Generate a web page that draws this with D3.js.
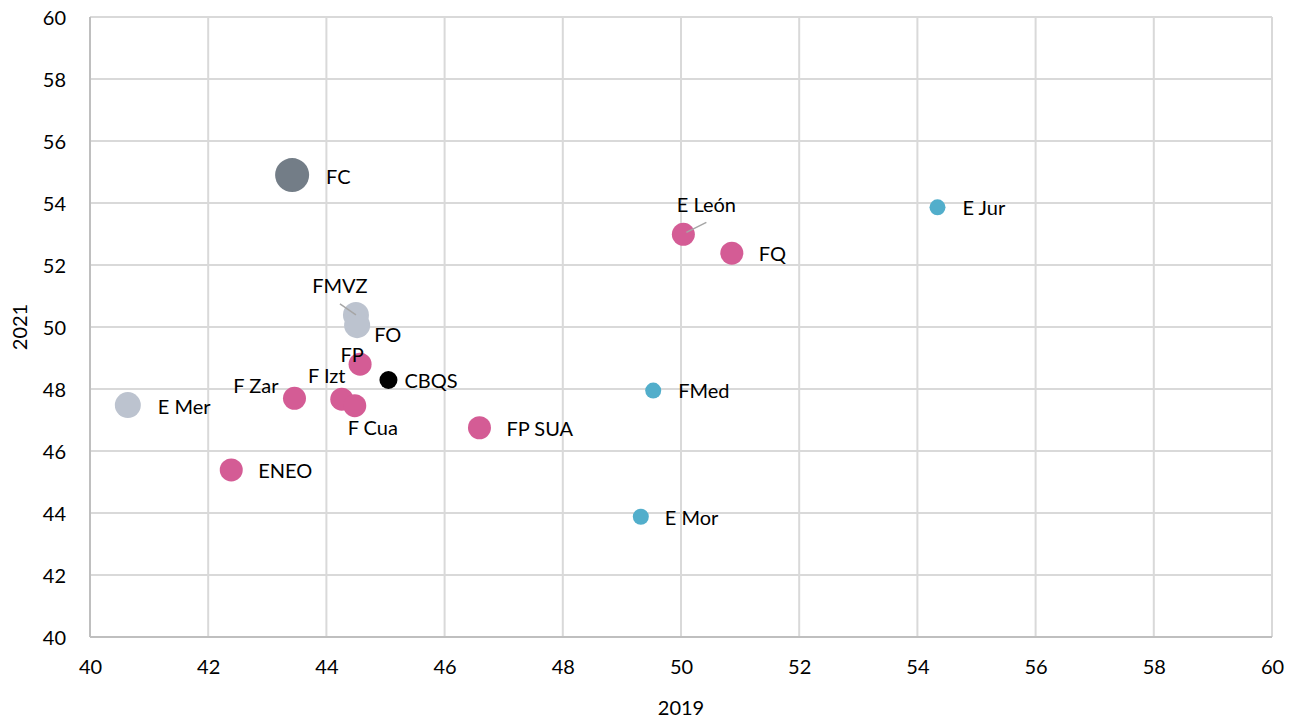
<!DOCTYPE html>
<html><head><meta charset="utf-8">
<script src="https://cdn.jsdelivr.net/npm/d3@7"></script>
<style>body{margin:0;background:#fff;} text{font-family:Lato,sans-serif;fill:#000;}</style>
</head><body><svg id="c" width="1294" height="721"></svg>
<script>
const names  = ["FC","E Mer","FMVZ","FO","FP","CBQS","F Zar","F Izt","F Cua","FP SUA","ENEO","E León","FQ","E Jur","FMed","E Mor"];
const x2019  = [43.42,40.64,44.50,44.52,44.57,45.05,43.46,44.26,44.48,46.59,42.39,50.04,50.86,54.34,49.53,49.32];
const y2021  = [54.90,47.48,50.39,50.06,48.80,48.29,47.70,47.67,47.46,46.75,45.39,52.99,52.38,53.86,47.95,43.88];
const groups = ["dark","light","light","light","pink","black","pink","pink","pink","pink","pink","pink","pink","blue","blue","blue"];
const sizes  = [17,13,13,13,11.5,9,11.5,11.5,11.5,11.5,11.5,11.5,11.5,8,8,8];
const xTicks = [40,42,44,46,48,50,52,54,56,58,60];
const yTicks = [40,42,44,46,48,50,52,54,56,58,60];
// label offsets (px) relative to point, anchor
const labelPos = [[34,2,"start"],[30,2,"start"],[-16,-29,"middle"],[17,10,"start"],[-8,-9,"middle"],[16,1,"start"],[-16,-12,"end"],[-15,-23,"middle"],[18,22,"middle"],[27,1,"start"],[27,1,"start"],[23,-29,"middle"],[27,1,"start"],[25,1,"start"],[25,0,"start"],[24,1,"start"]];
const leaders = {"FMVZ":[[-16,-11],[0,0]], "E León":[[23,-12],[3,-2]]};

const colors = {dark:"#737d87",light:"#bcc3cf",pink:"#d45c95",black:"#000000",blue:"#52aecb"};
const svg = d3.select("#c");
const m = {l:90,r:1272,t:17,b:637};
const x = d3.scaleLinear().domain([40,60]).range([m.l,m.r]);
const y = d3.scaleLinear().domain([40,60]).range([m.b,m.t]);
const FS = "20px";

const g = svg.append("g");
g.selectAll(".gx").data(xTicks).join("line").attr("x1",d=>x(d)).attr("x2",d=>x(d)).attr("y1",m.t).attr("y2",m.b).attr("stroke","#d9d9d9").attr("stroke-width",2);
g.selectAll(".gy").data(yTicks).join("line").attr("y1",d=>y(d)).attr("y2",d=>y(d)).attr("x1",m.l).attr("x2",m.r).attr("stroke","#d9d9d9").attr("stroke-width",2);
g.append("line").attr("x1",m.l).attr("x2",m.l).attr("y1",m.t).attr("y2",m.b).attr("stroke","#bfbfbf").attr("stroke-width",2);
g.append("line").attr("x1",m.l).attr("x2",m.r).attr("y1",m.b).attr("y2",m.b).attr("stroke","#bfbfbf").attr("stroke-width",2);

const xa = svg.append("g").attr("transform",`translate(0,${m.b})`).call(d3.axisBottom(x).tickValues(xTicks).tickSize(0).tickPadding(23));
const ya = svg.append("g").attr("transform",`translate(${m.l},0)`).call(d3.axisLeft(y).tickValues(yTicks).tickSize(0).tickPadding(24));
[xa,ya].forEach(a=>{a.select(".domain").remove();a.selectAll("text").style("font-family","Lato,sans-serif").style("font-size",FS).attr("fill","#000");});
ya.selectAll("text").attr("dy","0.35em");

svg.append("text").attr("x",(m.l+m.r)/2).attr("y",715).attr("text-anchor","middle").style("font-size",FS).text("2019");
svg.append("text").attr("transform",`translate(27,${(m.t+m.b)/2}) rotate(-90)`).attr("text-anchor","middle").style("font-size",FS).text("2021");

const data = names.map((n,i)=>({n,x:x2019[i],y:y2021[i],g:groups[i],r:sizes[i],lp:labelPos[i]}));
svg.append("g").selectAll("circle").data(data).join("circle")
  .attr("cx",d=>x(d.x)).attr("cy",d=>y(d.y)).attr("r",d=>d.r).attr("fill",d=>colors[d.g]);
data.forEach(d=>{ if(leaders[d.n]){ const L=leaders[d.n];
  svg.append("line").attr("x1",x(d.x)+L[0][0]).attr("y1",y(d.y)+L[0][1]).attr("x2",x(d.x)+L[1][0]).attr("y2",y(d.y)+L[1][1]).attr("stroke","#a6a6a6").attr("stroke-width",1.5);}});
svg.append("g").selectAll("text").data(data).join("text")
  .attr("x",d=>x(d.x)+d.lp[0]).attr("y",d=>y(d.y)+d.lp[1]).attr("dy","0.35em").attr("text-anchor",d=>d.lp[2])
  .style("font-size",FS).text(d=>d.n);
</script></body></html>
